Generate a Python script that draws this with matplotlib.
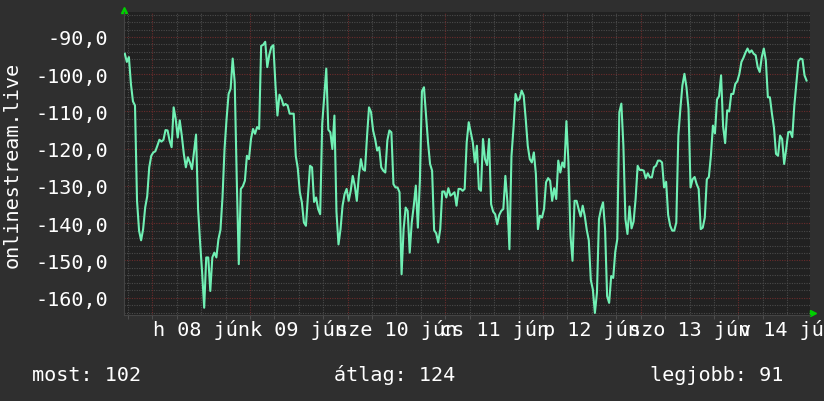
import numpy as np
import matplotlib
matplotlib.use('Agg')
import matplotlib.pyplot as plt

plt.rcParams['axes.unicode_minus'] = False
plt.rcParams['font.family'] = ['DejaVu Sans Mono']

# half-hourly values, each list is 48 samples (24 h), first sample 17:15 on Jun 07
day1 = [-94.5, -96.7, -95.4, -102.6, -107.3, -108.4, -134.0, -142.0, -144.6, -141.6,
        -135.8, -132.8, -125.0, -121.9, -121.0, -120.7, -119.2, -117.6, -118.1, -117.6,
        -115.0, -115.1, -117.8, -119.6, -108.9, -112.0, -117.0, -112.4, -116.5, -121.4,
        -125.0, -122.3, -123.7, -125.5, -120.8, -116.2, -136.2, -145.2, -153.3, -162.7,
        -149.2, -149.2, -158.2, -149.2, -147.9, -149.2, -144.3, -141.8]
day2 = [-133.1, -120.1, -112.0, -105.3, -103.9, -95.8, -102.1, -128.0, -151.0, -130.8,
        -130.1, -128.6, -121.9, -122.8, -117.4, -114.7, -116.0, -114.2, -114.7, -92.4,
        -92.1, -91.3, -98.1, -94.8, -92.7, -92.2, -102.6, -111.1, -105.5, -106.6,
        -108.4, -108.0, -108.4, -110.6, -110.6, -110.6, -121.9, -125.3, -131.7, -134.4,
        -139.8, -140.7, -132.6, -124.6, -125.0, -134.3, -133.1, -136.2]
day3 = [-137.6, -113.3, -105.9, -98.5, -114.9, -115.6, -120.1, -111.1, -136.9, -145.7,
        -141.6, -135.3, -132.2, -130.8, -134.0, -131.3, -127.3, -129.9, -134.0, -127.3,
        -122.8, -125.5, -125.9, -116.9, -108.9, -110.2, -115.1, -117.4, -120.5, -119.6,
        -125.0, -125.9, -126.4, -117.8, -115.1, -115.6, -129.5, -130.4, -130.4, -131.7,
        -153.7, -141.6, -135.8, -136.7, -147.9, -139.8, -135.3, -129.9]
day4 = [-141.2, -128.6, -104.6, -103.5, -111.1, -118.3, -124.1, -125.9, -141.9, -142.7,
        -145.2, -141.6, -131.5, -131.5, -133.1, -130.6, -132.6, -132.2, -131.7, -135.3,
        -130.8, -130.8, -131.3, -130.8, -118.3, -112.9, -115.6, -118.3, -123.7, -119.2,
        -130.8, -131.3, -117.4, -122.8, -124.4, -117.4, -134.9, -136.9, -137.6, -140.3,
        -137.8, -136.7, -136.2, -127.3, -134.3, -147.0, -122.0, -114.4]
day5 = [-105.3, -107.1, -106.6, -104.4, -105.7, -112.0, -119.2, -122.8, -123.7, -121.0,
        -126.8, -141.6, -138.0, -138.5, -136.2, -129.0, -127.9, -128.6, -134.0, -130.6,
        -133.5, -123.2, -126.4, -123.7, -125.0, -112.6, -123.7, -143.4, -150.1, -134.0,
        -134.0, -136.2, -138.2, -135.3, -138.0, -141.8, -144.6, -155.3, -157.8, -164.1,
        -158.7, -138.9, -136.2, -134.4, -141.6, -159.6, -161.4, -154.2]
day6 = [-154.7, -147.7, -144.3, -110.2, -107.9, -119.2, -138.9, -142.9, -135.5, -141.4,
        -139.6, -133.5, -124.6, -125.7, -125.7, -125.9, -128.0, -126.6, -127.7, -127.7,
        -125.0, -124.6, -123.2, -123.2, -123.7, -130.4, -128.9, -137.8, -140.7, -142.0,
        -142.0, -139.8, -116.5, -109.3, -103.0, -99.9, -103.5, -109.3, -130.4, -128.2,
        -127.6, -129.5, -130.8, -141.6, -141.2, -138.5, -128.2, -127.6]
day7 = [-121.9, -113.8, -115.9, -106.8, -105.9, -100.3, -114.0, -118.5, -109.7, -110.0,
        -105.3, -105.3, -102.6, -101.9, -99.9, -96.7, -95.6, -94.2, -93.1, -94.2,
        -93.6, -94.5, -94.9, -98.1, -99.4, -95.4, -93.1, -96.3, -106.2, -106.2,
        -110.6, -114.4, -121.4, -121.9, -116.5, -117.4, -124.1, -120.1, -115.6, -115.4,
        -116.9, -108.4, -102.6, -96.5, -95.8, -96.0, -100.3, -101.7]

day_labels = ['h 08 jún', 'k 09 jún', 'sze 10 jún', 'cs 11 jún', 'p 12 jún', 'szo 13 jún', 'v 14 jún']
y_label = 'onlinestream.live'
legend_items = [('most: 102', 32), ('átlag: 124', 334), ('legjobb: 91', 650)]

vals = np.array(day1 + day2 + day3 + day4 + day5 + day6 + day7)
t = -6.75 + 0.5 * np.arange(len(vals))   # hours since Jun 08 00:00

W, H = 824, 402
fig = plt.figure(figsize=(W / 100, H / 100), dpi=100, facecolor='#2f2f2f')
ax = fig.add_axes([124 / W, 1 - 316 / H, (810 - 124) / W, (316 - 13) / H])
ax.set_facecolor('#212121')

ax.set_xlim(-6.95, 161.6)
ax.set_ylim(-164.65, -83.3)

# grid
for y in range(-164, -83, 2):
    c = '#6b2c2c' if y % 10 == 0 else '#4a4a4a'
    ax.axhline(y, color=c, lw=0.8, ls=(0, (1, 1.2)), zorder=0)
for x in range(-6, 162, 6):
    c = '#6b2c2c' if x % 24 == 0 else '#4a4a4a'
    ax.axvline(x, color=c, lw=0.8, ls=(0, (1, 1.2)), zorder=0)

ax.plot(t, vals, color='#70f0b4', lw=1.5, zorder=3)

yt = np.arange(-160, -85, 10)
ax.set_yticks(yt)
ax.set_yticklabels([('%.1f' % v).replace('.', ',') for v in yt])
ax.tick_params(axis='y', length=0, pad=11.5, labelsize=14.5, labelcolor='white')

ax.set_xticks([12 + 24 * k for k in range(7)])
ax.set_xticklabels(day_labels)
ax.tick_params(axis='x', length=0, pad=3, labelsize=14.5, labelcolor='white')
ax.set_xticks(range(-6, 162, 6), minor=True)
ax.tick_params(axis='x', which='minor', length=3, color='#555555', direction='out')

for s in ['top', 'right']:
    ax.spines[s].set_visible(False)
for s in ['left', 'bottom']:
    ax.spines[s].set_color('#444444')

# rrdtool style arrow heads
ax.plot([0.0], [1.008], marker='^', ms=4.5, color='#00d000', transform=ax.transAxes, clip_on=False)
ax.plot([1.0044], [0.005], marker='>', ms=4.5, color='#00d000', transform=ax.transAxes, clip_on=False)

fig.text(12 / W, 1 - 164.5 / H, y_label, rotation=90, color='white', fontsize=14.5,
         ha='center', va='center')
for txt, xp in legend_items:
    fig.text(xp / W, 1 - 381 / H, txt, color='white', fontsize=14.5, ha='left', va='baseline')

fig.savefig('out.png', dpi=100, facecolor=fig.get_facecolor())
